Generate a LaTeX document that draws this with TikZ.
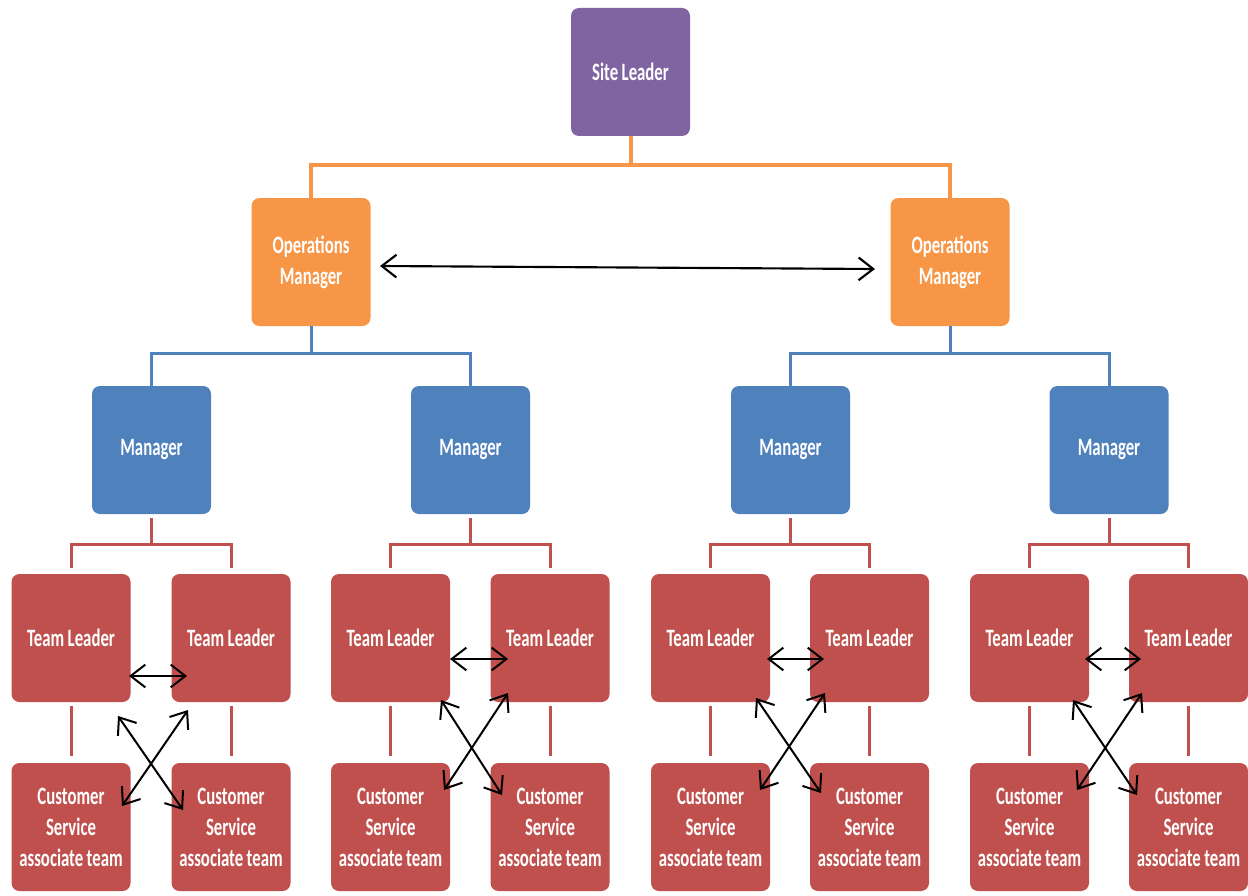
\documentclass[tikz,border=0pt]{standalone}
\usepackage{fontspec}
\setmainfont[FakeStretch=0.67,BoldFont={Carlito Bold}]{Carlito}
\usetikzlibrary{arrows.meta}
\definecolor{cpurple}{HTML}{8064A2}
\definecolor{corange}{HTML}{F79646}
\definecolor{cblue}{HTML}{4F81BD}
\definecolor{cred}{HTML}{C0504D}
\newcommand\orgboxfont{\fontsize{18.75}{23.25}\selectfont\bfseries}
\begin{document}
\begin{tikzpicture}[x=0.75pt,y=-0.75pt,
  box/.style={rounded corners=6pt, minimum width=89.25pt, minimum height=96pt,
    inner sep=0pt, text=white, align=center, text width=87pt,
    font=\orgboxfont, execute at begin node={\spaceskip=2.6pt\relax}},
  purplebox/.style={box, fill=cpurple},
  orangebox/.style={box, fill=corange},
  bluebox/.style={box, fill=cblue},
  redbox/.style={box, fill=cred},
  oline/.style={draw=corange, line width=3pt},
  bline/.style={draw=cblue, line width=2.25pt},
  rline/.style={draw=cred, line width=2.25pt},
  dbl/.style={black, line width=1.6pt, {Straight Barb[length=11pt,width=17pt]}-{Straight Barb[length=11pt,width=17pt]}},
  dbls/.style={black, line width=1.5pt, {Straight Barb[length=11pt,width=17pt]}-{Straight Barb[length=11pt,width=17pt]}}
]
\fill[white] (0,0) rectangle (1248,895);
\useasboundingbox (0,0) rectangle (1248,895);

% nodes
\node[purplebox] (sl) at (630.5,72) {Site Leader};
\node[orangebox] (opsL) at (311,262) {Operations\\Manager};
\node[orangebox] (opsR) at (950,262) {Operations\\Manager};
\node[bluebox] (m1) at (151.5,450) {Manager};
\node[bluebox] (m2) at (470.5,450) {Manager};
\node[bluebox] (m3) at (790.5,450) {Manager};
\node[bluebox] (m4) at (1109,450) {Manager};

\foreach \n/\x in {1/71,2/231,3/390.5,4/550,5/710.5,6/869.5,7/1029.5,8/1188.5}{
  \node[redbox] (tl\n) at (\x,638) {Team Leader};
  \node[redbox] (cs\n) at (\x,827) {Customer\\Service\\associate team};
}

% tree connectors
\draw[oline] (sl.south) -- ++(0,29) -| (opsL.north);
\draw[oline] (sl.south) -- ++(0,29) -| (opsR.north);
\draw[bline] (opsL.south) -- ++(0,27) -| (m1.north);
\draw[bline] (opsL.south) -- ++(0,27) -| (m2.north);
\draw[bline] (opsR.south) -- ++(0,27) -| (m3.north);
\draw[bline] (opsR.south) -- ++(0,27) -| (m4.north);
\foreach \m/\a/\b in {1/1/2,2/3/4,3/5/6,4/7/8}{
  \draw[rline, shorten <=3pt, shorten >=4.5pt] (m\m.south) -- ++(0,30) -| (tl\a.north);
  \draw[rline, shorten <=3pt, shorten >=4.5pt] (m\m.south) -- ++(0,30) -| (tl\b.north);
}
\foreach \n in {1,...,8}{
  \draw[rline, shorten <=3pt, shorten >=5pt] (tl\n.south) -- (cs\n.north);
}

% operations managers link
\coordinate (oa) at (380,266);
\coordinate (ob) at (875,269);
\draw[dbl] (oa) -- (ob);

% team arrows
\foreach \g/\hax/\hay/\hbx/\hby/\pax/\pay/\pbx/\pby/\qax/\qay/\qbx/\qby in {
  1/129/676/187/676/118/716/183/810/188/710/122/806,
  2/450/659/508/659/441/700/502/795/508/693/444/790,
  3/767/659/824/659/756/698/821/793/825/693/760/790,
  4/1085/659/1141/659/1073/700/1137/795/1142/693/1077/790}{
  \coordinate (h\g a) at (\hax,\hay);
  \coordinate (h\g b) at (\hbx,\hby);
  \coordinate (p\g a) at (\pax,\pay);
  \coordinate (p\g b) at (\pbx,\pby);
  \coordinate (q\g a) at (\qax,\qay);
  \coordinate (q\g b) at (\qbx,\qby);
  \draw[dbls] (h\g a) -- (h\g b);
  \draw[dbls] (p\g a) -- (p\g b);
  \draw[dbls] (q\g a) -- (q\g b);
}
\end{tikzpicture}
\end{document}
